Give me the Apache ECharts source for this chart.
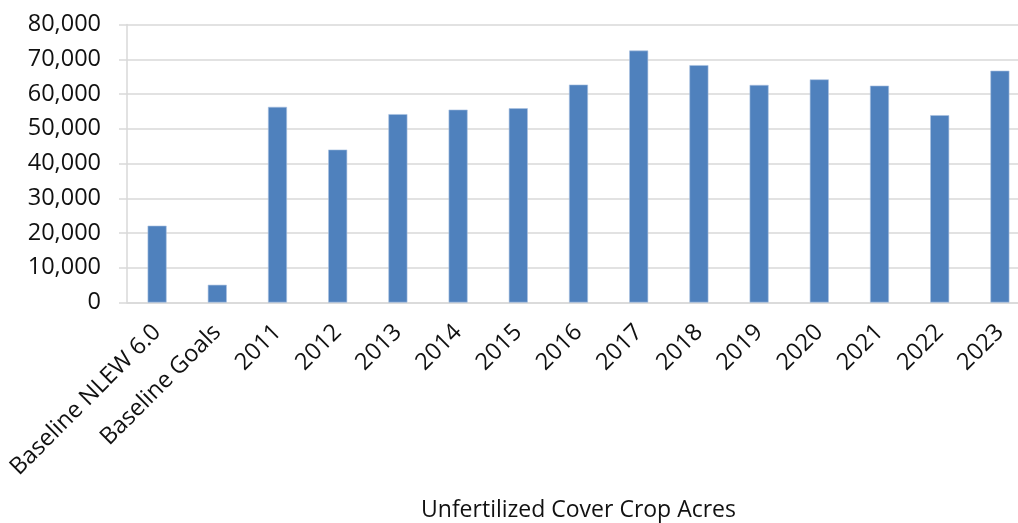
<!DOCTYPE html>
<html>
<head>
<meta charset="utf-8">
<script src="https://cdn.jsdelivr.net/npm/echarts@6/dist/echarts.min.js"></script>
<style>
  html, body { margin: 0; padding: 0; background: #fff; }
  #chart { width: 1018px; height: 523px; }
</style>
</head>
<body>
<div id="chart"></div>
<script>
// Unfertilized cover crop acres by baseline and year
const categories = ['Baseline NLEW 6.0', 'Baseline Goals', '2011', '2012', '2013', '2014', '2015',
  '2016', '2017', '2018', '2019', '2020', '2021', '2022', '2023'];
const acres = [22100, 5100, 56300, 44000, 54200, 55500, 55900,
  62700, 72500, 68300, 62600, 64200, 62400, 53900, 66700];
const yTicks = [0, 10000, 20000, 30000, 40000, 50000, 60000, 70000, 80000];
const axisTitle = 'Unfertilized Cover Crop Acres';

const font = '"Open Sans", "Liberation Sans", sans-serif';
const fmt = v => v.toLocaleString('en-US');

const chart = echarts.init(document.getElementById('chart'), null, { renderer: 'canvas' });
chart.setOption({
  animation: false,
  backgroundColor: '#ffffff',
  grid: {
    left: 127, right: -12, top: 24.5, bottom: 220.5,
    containLabel: false,
    outerBoundsMode: 'none'
  },
  xAxis: {
    type: 'category',
    data: categories,
    name: axisTitle,
    nameLocation: 'middle',
    nameGap: 196,
    nameTextStyle: { fontFamily: font, fontSize: 23, color: '#111' },
    axisLine: { lineStyle: { color: '#d9d9d9', width: 1.5 } },
    axisTick: { show: false },
    axisLabel: {
      interval: 0,
      rotate: 45,
      margin: 26,
      fontFamily: font,
      fontSize: 23.5,
      color: '#111'
    }
  },
  yAxis: {
    type: 'value',
    min: yTicks[0],
    max: yTicks[yTicks.length - 1],
    interval: yTicks[1] - yTicks[0],
    axisLine: { show: true, lineStyle: { color: '#d9d9d9', width: 1.5 } },
    axisTick: { show: true, length: 8, lineStyle: { color: '#d9d9d9', width: 1.5 } },
    splitLine: { lineStyle: { color: '#d9d9d9', width: 1.5 } },
    axisLabel: {
      margin: 26,
      fontFamily: font,
      fontSize: 23.5,
      color: '#111',
      formatter: fmt
    }
  },
  series: [{
    type: 'bar',
    data: acres,
    barWidth: '31.5%',
    itemStyle: { color: '#4f81bd', borderColor: '#a9c1e0', borderWidth: 0.6 }
  }]
});
</script>
</body>
</html>
